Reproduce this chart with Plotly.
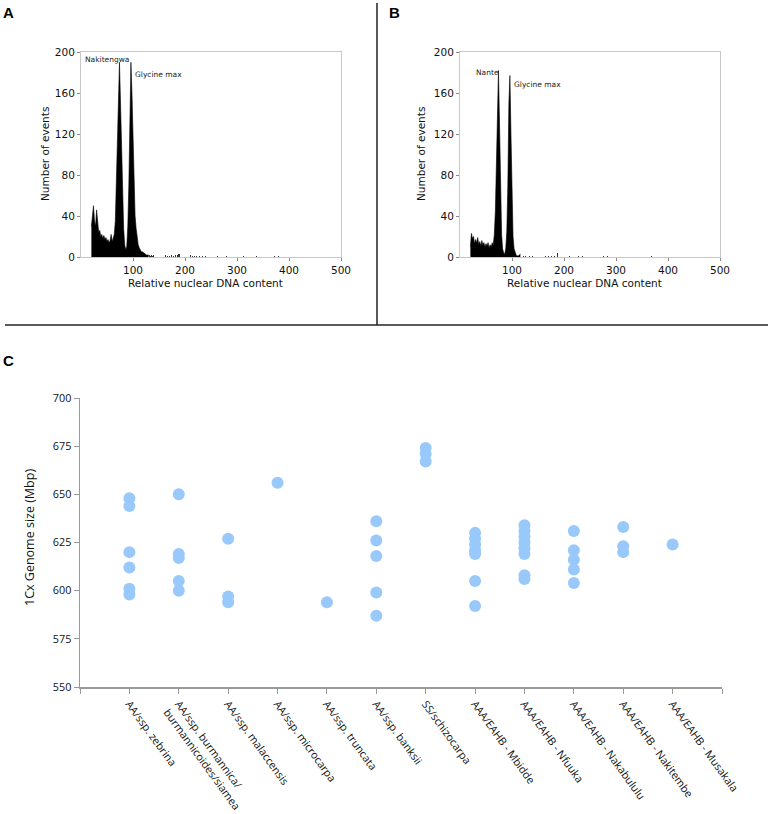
import plotly.graph_objects as go

# ---------------- Panel A histogram (bin centre -> events) ----------------
a_bins = [20, 22, 24, 26, 28, 30, 32, 34, 36, 38, 40, 42, 44, 46, 48, 50, 52, 54, 56, 58,
          60, 62, 64, 66, 68, 70, 72, 74, 76, 78, 80, 82, 84, 86, 88, 90, 92, 94, 96, 98,
          100, 102, 104, 106, 108, 110, 112, 114, 116, 118, 120, 122, 124, 126, 128, 130]
a_counts = [30, 42, 50, 35, 30, 46, 30, 24, 26, 20, 22, 18, 21, 17, 19, 15, 17, 14, 16, 22,
            15, 18, 22, 35, 70, 120, 165, 190, 150, 110, 62, 28, 12, 7, 10, 30, 70, 150, 190, 160,
            115, 70, 40, 28, 18, 12, 9, 7, 5, 5, 4, 3, 3, 2, 2, 2]
a_tail_bins = [132, 134, 136, 138, 140, 142, 146, 150, 154, 158, 162, 166, 170, 174, 178, 182,
               186, 188, 190, 192, 194, 196, 198, 200, 202, 204, 206, 210, 214, 218, 222, 228,
               234, 240, 262, 280, 306, 312, 338, 344, 372, 380, 408, 492]
a_tail_counts = [2, 1, 2, 1, 2, 1, 1, 2, 1, 1, 2, 1, 1, 2, 1, 2,
                 2, 3, 3, 4, 5, 4, 3, 3, 2, 2, 1, 2, 1, 1, 1, 1,
                 1, 1, 1, 1, 1, 1, 1, 1, 1, 1, 1, 1]

# ---------------- Panel B histogram ----------------
b_bins = [20, 22, 24, 26, 28, 30, 32, 34, 36, 38, 40, 42, 44, 46, 48, 50, 52, 54, 56, 58,
          60, 62, 64, 66, 68, 70, 72, 74, 76, 78, 80, 82, 84, 86, 88, 90, 92, 94, 96, 98,
          100, 102, 104, 106, 108, 110, 112, 114, 116]
b_counts = [10, 23, 18, 20, 13, 17, 14, 19, 12, 15, 11, 16, 12, 14, 10, 13, 11, 14, 9, 12,
            10, 14, 12, 22, 45, 100, 155, 182, 130, 60, 22, 8, 4, 3, 8, 25, 70, 150, 177, 120,
            55, 20, 8, 4, 2, 1, 1, 2, 3]
b_tail_bins = [122, 126, 134, 140, 146, 152, 164, 170, 176, 182, 188, 192, 198, 204, 210,
               228, 236, 246, 252, 276, 284, 308, 354, 368]
b_tail_counts = [1, 1, 1, 1, 1, 1, 1, 1, 1, 1, 4, 2, 1, 2, 1,
                 1, 1, 1, 1, 1, 1, 1, 1, 1]

hist_x_ticks = [100, 200, 300, 400, 500]
hist_y_ticks = [0, 40, 80, 120, 160, 200]

# ---------------- Panel C genome sizes ----------------
categories = ["AA/ssp. zebrina",
              "AA/ssp. burmannica/<br>burmannicoides/siamea",
              "AA/ssp. malaccensis",
              "AA/ssp. microcarpa",
              "AA/ssp. truncata",
              "AA/ssp. banksii",
              "SS/schizocarpa",
              "AAA/EAHB - Mbidde",
              "AAA/EAHB - Nfuuka",
              "AAA/EAHB - Nakabululu",
              "AAA/EAHB - Nakitembe",
              "AAA/EAHB - Musakala"]
genome_sizes = [
    [648, 644, 620, 612, 601, 598],
    [650, 619, 617, 605, 600],
    [627, 597, 594],
    [656],
    [594],
    [636, 626, 618, 599, 587],
    [674, 671, 667],
    [630, 627, 624, 621, 619, 605, 592],
    [634, 631, 628, 625, 622, 619, 608, 606],
    [631, 621, 616, 611, 604],
    [633, 623, 620],
    [624],
]
c_y_ticks = [550, 575, 600, 625, 650, 675, 700]

W, H = 774, 814
def px(x):
    return x / W
def py(y):
    return 1 - y / H

fig = go.Figure()

# dense part of each histogram as a filled profile, sparse tail as thin bars
fig.add_trace(go.Scatter(x=a_bins, y=a_counts, mode="lines", fill="tozeroy",
                         fillcolor="black", line=dict(color="black", width=0.6),
                         xaxis="x", yaxis="y", showlegend=False))
fig.add_trace(go.Bar(x=a_tail_bins, y=a_tail_counts, width=1.2,
                     marker=dict(color="#333", line=dict(width=0)),
                     xaxis="x", yaxis="y", showlegend=False))
fig.add_trace(go.Scatter(x=b_bins, y=b_counts, mode="lines", fill="tozeroy",
                         fillcolor="black", line=dict(color="black", width=0.6),
                         xaxis="x2", yaxis="y2", showlegend=False))
fig.add_trace(go.Bar(x=b_tail_bins, y=b_tail_counts, width=1.2,
                     marker=dict(color="#333", line=dict(width=0)),
                     xaxis="x2", yaxis="y2", showlegend=False))

cx, cy = [], []
for i, vals in enumerate(genome_sizes):
    for v in vals:
        cx.append(i)
        cy.append(v)
fig.add_trace(go.Scatter(x=cx, y=cy, mode="markers",
                         marker=dict(size=12, color="#99c9fb", line=dict(width=0)),
                         xaxis="x3", yaxis="y3", showlegend=False))

hist_font = dict(family="DejaVu Sans", size=10.5, color="#111")
def hist_x(domain, anchor):
    return dict(domain=domain, anchor=anchor, range=[0, 500], tickvals=hist_x_ticks,
                showline=True, linecolor="#c8c8c8", linewidth=1, mirror=True,
                ticks="outside", ticklen=3, tickcolor="#888", showgrid=False, zeroline=False,
                tickfont=hist_font, automargin=False, fixedrange=True)
def hist_y(domain, anchor):
    return dict(domain=domain, anchor=anchor, range=[0, 200], tickvals=hist_y_ticks,
                showline=True, linecolor="#c8c8c8", linewidth=1, mirror=True,
                ticks="outside", ticklen=3, tickcolor="#888", showgrid=False, zeroline=False,
                tickfont=hist_font, automargin=False, fixedrange=True)

c_font = dict(family="Open Sans", size=10.8, color="#111")

fig.update_layout(
    width=W, height=H,
    margin=dict(l=0, r=0, t=0, b=0, autoexpand=False),
    paper_bgcolor="white", plot_bgcolor="white",
    bargap=0,
    xaxis=hist_x([px(81), px(341)], "y"),
    yaxis=hist_y([py(257), py(52)], "x"),
    xaxis2=hist_x([px(460), px(720)], "y2"),
    yaxis2=hist_y([py(257), py(52)], "x2"),
    xaxis3=dict(domain=[px(80), px(722)], anchor="y3", range=[-1, 12],
                tickvals=list(range(-1, 13)),
                ticktext=[""] + categories + [""],
                tickangle=54, tickfont=c_font, automargin=False,
                showline=True, linecolor="#9a9a9a", linewidth=1.5,
                ticks="outside", ticklen=5, tickcolor="#9a9a9a",
                showgrid=False, zeroline=False),
    yaxis3=dict(domain=[py(687), py(398)], anchor="x3", range=[550, 700],
                tickvals=c_y_ticks, tickfont=c_font, automargin=False,
                showline=True, linecolor="#9a9a9a", linewidth=1.5,
                ticks="outside", ticklen=5, tickcolor="#9a9a9a",
                showgrid=False, zeroline=False),
)

ann_font = dict(family="DejaVu Sans", size=7.5, color="#222")
label_font = dict(family="Liberation Sans", size=15, color="black")
def paper_text(text, x, y, font, angle=0):
    return dict(text=text, x=px(x), y=py(y), xref="paper", yref="paper",
                xanchor="center", yanchor="middle", showarrow=False,
                font=font, textangle=angle)

fig.update_layout(annotations=[
    dict(text="Nakitengwa", x=3.7, y=193, xref="x", yref="y", xanchor="left",
         yanchor="middle", showarrow=False, font=ann_font),
    dict(text="Glycine max", x=100.6, y=178, xref="x", yref="y", xanchor="left",
         yanchor="middle", showarrow=False, font=ann_font),
    dict(text="Nante", x=26.3, y=180, xref="x2", yref="y2", xanchor="left",
         yanchor="middle", showarrow=False, font=ann_font),
    dict(text="Glycine max", x=100.8, y=168, xref="x2", yref="y2", xanchor="left",
         yanchor="middle", showarrow=False, font=ann_font),
    # axis titles
    paper_text("Number of events", 45, 154, hist_font, -90),
    paper_text("Relative nuclear DNA content", 205, 283, hist_font),
    paper_text("Number of events", 421, 154, hist_font, -90),
    paper_text("Relative nuclear DNA content", 584, 283, hist_font),
    paper_text("1Cx Genome size (Mbp)", 29, 538,
               dict(family="Open Sans", size=12.5, color="#111"), -90),
    # panel letters
    paper_text("<b>A</b>", 8.5, 12.5, label_font),
    paper_text("<b>B</b>", 394, 12.5, label_font),
    paper_text("<b>C</b>", 8.5, 360.5, label_font),
])

fig.update_layout(shapes=[
    dict(type="line", xref="paper", yref="paper", x0=px(377), x1=px(377),
         y0=py(3), y1=py(325), line=dict(color="#222", width=1.5)),
    dict(type="line", xref="paper", yref="paper", x0=px(5), x1=px(768),
         y0=py(325), y1=py(325), line=dict(color="#222", width=1.5)),
])

# remove the browser's default 8px page margin so the figure sits at (0, 0)
fig.write_html("out.html",
               config={"displayModeBar": False, "staticPlot": True},
               post_script="document.body.style.margin='0';document.body.style.overflow='hidden';")
